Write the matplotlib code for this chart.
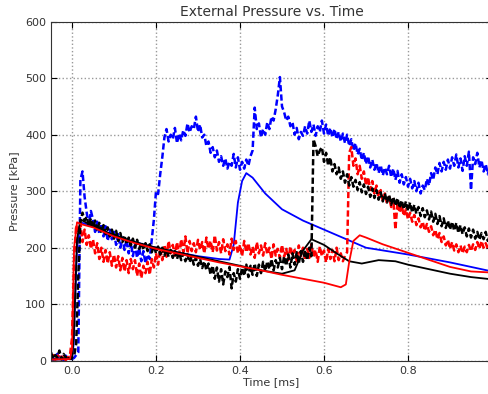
import numpy as np
import matplotlib
matplotlib.use("Agg")
import matplotlib.pyplot as pl

# experimental traces, sampled every 0.005 ms from -0.05 ms (one row = 0.05 ms)
exp_t0 = -0.05
exp_dt = 0.005

blue_exp = [
    8, 2, 5, 12, 3, 7, 1, 9, 4, 6,
    3, 5, 10, 15, 320, 335, 290, 262, 240, 265,
    250, 228, 246, 225, 242, 220, 238, 212, 232, 215,
    228, 205, 224, 200, 218, 196, 215, 190, 210, 185,
    205, 182, 200, 176, 194, 172, 188, 180, 215, 250,
    300, 295, 330, 360, 395, 410, 388, 400, 392, 412,
    385, 402, 390, 408, 398, 420, 404, 415, 410, 432,
    405, 418, 395, 400, 380, 388, 368, 378, 360, 372,
    352, 362, 345, 358, 340, 352, 345, 366, 342, 360,
    338, 352, 340, 356, 345, 362, 372, 448, 410, 420,
    395, 410, 400, 422, 410, 432, 425, 445, 470, 502,
    450, 440, 425, 432, 415, 422, 400, 412, 392, 405,
    398, 415, 402, 425, 405, 418, 398, 415, 405, 425,
    402, 418, 398, 412, 395, 410, 392, 405, 388, 402,
    385, 400, 380, 392, 372, 385, 365, 375, 355, 368,
    348, 362, 342, 356, 338, 350, 332, 346, 328, 342,
    330, 345, 325, 340, 320, 336, 315, 330, 312, 325,
    308, 322, 305, 318, 300, 315, 296, 310, 302, 322,
    310, 332, 320, 342, 330, 350, 335, 352, 338, 356,
    340, 360, 345, 365, 342, 358, 336, 362, 345, 370,
    302, 360, 348, 368, 342, 355, 335, 348, 330, 342,
]

black_exp = [
    15, 3, 10, 6, 18, 2, 12, 5, 9, 3,
    6, 8, 30, 150, 245, 262, 248, 255, 238, 252,
    235, 248, 230, 244, 226, 240, 224, 236, 220, 232,
    216, 230, 212, 226, 210, 222, 206, 218, 204, 216,
    200, 214, 198, 210, 196, 208, 194, 206, 192, 204,
    190, 202, 188, 200, 186, 198, 184, 196, 182, 194,
    180, 192, 178, 190, 176, 188, 174, 185, 170, 182,
    168, 180, 164, 176, 160, 172, 152, 168, 145, 165,
    140, 162, 135, 158, 148, 166, 128, 155, 140, 162,
    145, 165, 150, 170, 148, 168, 152, 172, 150, 170,
    155, 175, 158, 176, 162, 180, 160, 178, 165, 182,
    162, 185, 168, 188, 165, 190, 170, 192, 172, 194,
    175, 196, 178, 200, 185, 392, 380, 362, 372, 378,
    352, 368, 345, 360, 335, 348, 330, 342, 322, 335,
    315, 330, 310, 325, 308, 320, 302, 316, 298, 312,
    295, 308, 290, 305, 288, 302, 285, 298, 282, 296,
    280, 294, 276, 290, 274, 288, 270, 284, 268, 282,
    265, 280, 262, 276, 260, 272, 256, 270, 254, 266,
    250, 264, 246, 260, 242, 256, 238, 252, 235, 248,
    232, 246, 230, 244, 226, 240, 224, 236, 220, 234,
    218, 232, 216, 228, 214, 226, 215, 228, 212, 222,
]

red_exp = [
    3, 10, 2, 7, 12, 4, 8, 1, 6, 9,
    40, 180, 240, 225, 245, 210, 232, 205, 222, 198,
    215, 190, 208, 180, 200, 175, 196, 172, 192, 168,
    188, 165, 185, 160, 182, 158, 178, 155, 180, 162,
    178, 150, 172, 146, 168, 155, 175, 152, 180, 165,
    190, 170, 198, 178, 205, 184, 212, 190, 205, 186,
    210, 188, 215, 192, 220, 190, 212, 194, 208, 192,
    214, 196, 210, 190, 218, 198, 212, 192, 222, 195,
    210, 190, 215, 194, 206, 188, 216, 196, 212, 190,
    205, 185, 212, 192, 208, 188, 202, 182, 210, 190,
    204, 186, 208, 188, 200, 180, 206, 186, 198, 182,
    205, 184, 198, 178, 202, 186, 196, 176, 204, 185,
    200, 178, 198, 182, 206, 184, 196, 175, 202, 185,
    195, 174, 198, 180, 196, 176, 200, 178, 190, 176,
    186, 192, 368, 378, 345, 358, 330, 345, 322, 335,
    310, 325, 302, 318, 296, 310, 290, 302, 282, 296,
    278, 290, 272, 286, 232, 280, 262, 275, 256, 268,
    250, 262, 246, 258, 240, 252, 236, 246, 230, 242,
    228, 238, 222, 232, 215, 226, 210, 220, 204, 214,
    198, 210, 195, 206, 192, 204, 190, 202, 192, 205,
    194, 206, 196, 210, 198, 212, 200, 208, 198, 210,
]

# simulations
blue_sim_t = [-0.05, 0.0, 0.004, 0.012, 0.02, 0.05, 0.1, 0.15, 0.2, 0.25, 0.3,
              0.35, 0.375, 0.385, 0.395, 0.405, 0.415, 0.43, 0.46, 0.5, 0.55,
              0.6, 0.65, 0.7, 0.75, 0.8, 0.85, 0.9, 0.95, 1.0]
blue_sim_p = [2, 3, 30, 200, 245, 238, 222, 210, 200, 192, 185,
              180, 179, 205, 280, 318, 332, 324, 296, 268, 248,
              232, 216, 200, 194, 188, 181, 174, 166, 158]

black_sim_t = [-0.05, 0.0, 0.004, 0.012, 0.02, 0.05, 0.1, 0.15, 0.2, 0.25, 0.3,
               0.35, 0.4, 0.45, 0.5, 0.53, 0.55, 0.57, 0.6, 0.63, 0.66, 0.69,
               0.73, 0.77, 0.8, 0.85, 0.9, 0.95, 1.0]
black_sim_p = [2, 3, 40, 215, 250, 238, 222, 210, 200, 192, 184,
               176, 168, 160, 154, 160, 195, 215, 205, 190, 176, 172,
               178, 176, 170, 162, 154, 148, 144]

red_sim_t = [-0.05, -0.005, 0.0, 0.005, 0.012, 0.02, 0.05, 0.1, 0.15, 0.2, 0.25,
             0.3, 0.35, 0.4, 0.45, 0.5, 0.55, 0.6, 0.64, 0.652, 0.66, 0.67,
             0.685, 0.7, 0.74, 0.78, 0.82, 0.86, 0.9, 0.95, 1.0]
red_sim_p = [2, 3, 20, 200, 245, 242, 236, 220, 208, 198, 190,
             182, 174, 167, 160, 152, 145, 138, 130, 135, 175, 212,
             222, 218, 206, 196, 186, 176, 166, 158, 156]


def exp_time(values):
    return exp_t0 + exp_dt * np.arange(len(values))


fig = pl.figure(figsize=(4.88, 3.94), dpi=100)
ax = fig.add_axes([0.1045, 0.0845, 0.9037, 0.8604])

dash = (0, (2.5, 1.2))
ax.plot(exp_time(blue_exp), blue_exp, color="b", lw=1.8, linestyle=dash)
ax.plot(blue_sim_t, blue_sim_p, color="b", lw=1.3)
ax.plot(exp_time(red_exp), red_exp, color="r", lw=1.8, linestyle=dash)
ax.plot(exp_time(black_exp), black_exp, color="k", lw=1.8, linestyle=dash)
ax.plot(black_sim_t, black_sim_p, color="k", lw=1.3)
ax.plot(red_sim_t, red_sim_p, color="r", lw=1.3)

ax.set_xlim(-0.05, 1.0)
ax.set_ylim(0, 600)
ax.set_xticks([0.0, 0.2, 0.4, 0.6, 0.8])
ax.set_yticks([0, 100, 200, 300, 400, 500, 600])
ax.grid(True, color="#999999", linestyle=":", lw=1)
ax.tick_params(direction="in", top=True, right=True, labelsize=8,
               labelcolor="#333333", length=4)
for s in ax.spines.values():
    s.set_color("#333333")

ax.set_title("External Pressure vs. Time", fontsize=10, color="#333333", pad=4)
ax.set_xlabel("Time [ms]", fontsize=8, color="#333333", labelpad=1)
ax.set_ylabel("Pressure [kPa]", fontsize=8, color="#333333", labelpad=4)

fig.savefig("out.png", dpi=100)
